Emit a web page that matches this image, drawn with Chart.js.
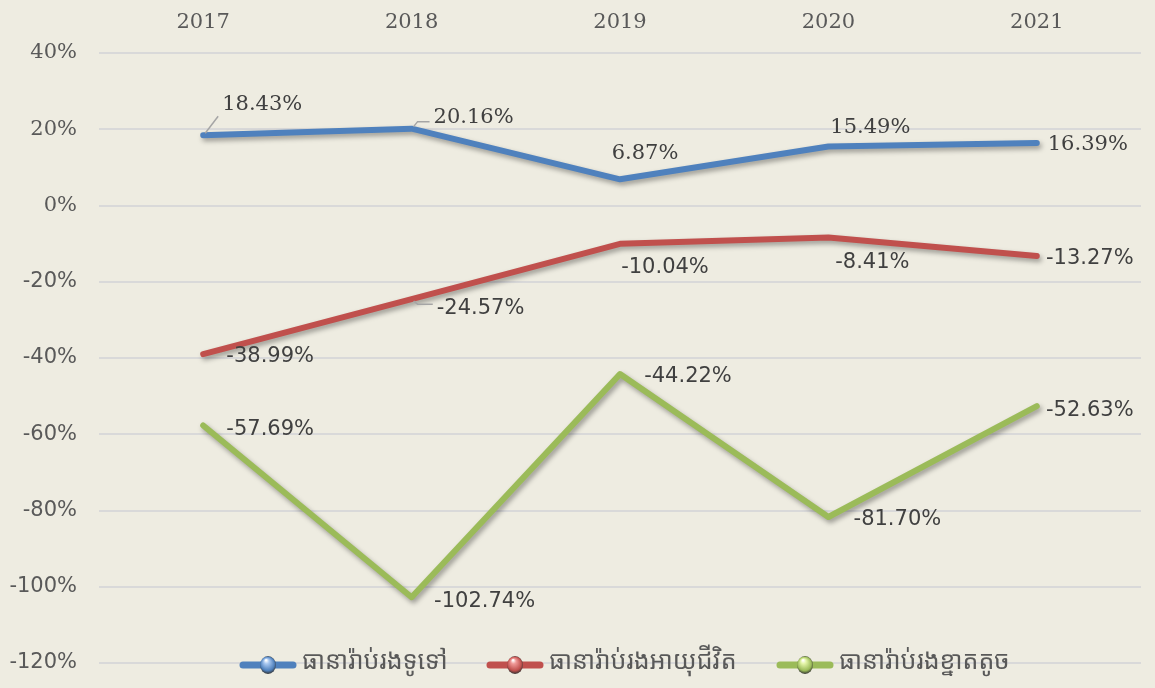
<!DOCTYPE html>
<html>
<head>
<meta charset="utf-8">
<script src="https://cdn.jsdelivr.net/npm/chart.js@4.4.1/dist/chart.umd.min.js"></script>
<style>
  html, body { margin: 0; padding: 0; background: #eeece1; }
  #wrap { width: 1155px; height: 688px; }
</style>
</head>
<body>
<div id="wrap"><canvas id="chart" width="1155" height="688"></canvas></div>
<script>
// Chart data
const years = ["2017", "2018", "2019", "2020", "2021"];
const seriesNames = ["ធានារ៉ាប់រងទូទៅ", "ធានារ៉ាប់រងអាយុជីវិត", "ធានារ៉ាប់រងខ្នាតតូច"];
const generalIns = [18.43, 20.16, 6.87, 15.49, 16.39];
const lifeIns = [-38.99, -24.57, -10.04, -8.41, -13.27];
const microIns = [-57.69, -102.74, -44.22, -81.70, -52.63];
const yTicks = [40, 20, 0, -20, -40, -60, -80, -100, -120];

const colors = ["#4f81bd", "#c0504d", "#9bbb59"];
const ballLight = ["#a9c8f0", "#f09a98", "#e4f5a8"];

// label offsets (px from the point), roughly as placed in the original
const labelOffsets = [
    [[59, -31], [62, -11], [25, -26], [42, -19], [51, 2]],
    [[67, 2], [69, 9], [45, 24], [44, 25], [53, 2]],
    [[67, 4], [73, 4], [68, 2], [69, 3], [53, 4]]
];
const leaderLines = [
    [true, true, false, false, false],
    [false, true, false, false, false],
    [false, false, false, false, false]
];

const serif = "'DejaVu Serif', serif";
const sans = "'DejaVu Sans', sans-serif";

function fmt(v) {
    return v.toFixed(2) + "%";
}

// line shadow
const shadowPlugin = {
    id: "shadow",
    beforeDatasetDraw(chart) {
        const ctx = chart.ctx;
        ctx.save();
        ctx.shadowColor = "rgba(0,0,0,0.35)";
        ctx.shadowBlur = 5;
        ctx.shadowOffsetX = 2;
        ctx.shadowOffsetY = 3;
    },
    afterDatasetDraw(chart) {
        chart.ctx.restore();
    }
};

// data labels + legend
const labelPlugin = {
    id: "labels",
    afterDatasetsDraw(chart) {
        const ctx = chart.ctx;
        ctx.save();
        chart.data.datasets.forEach((ds, di) => {
            const meta = chart.getDatasetMeta(di);
            meta.data.forEach((pt, i) => {
                const v = ds.data[i];
                const off = labelOffsets[di][i];
                const text = fmt(v);
                ctx.font = "21px " + (v < 0 ? sans : serif);
                const w = ctx.measureText(text).width;
                const cx = pt.x + off[0];
                const cy = pt.y + off[1];
                if (leaderLines[di][i]) {
                    ctx.strokeStyle = "#a5a5a5";
                    ctx.lineWidth = 1.5;
                    ctx.beginPath();
                    ctx.moveTo(pt.x + 2, pt.y - (off[1] < 0 ? 2 : -2));
                    const ex = cx - w / 2 - 4;
                    const ey = cy + (off[1] < 0 ? 4 : -4);
                    if (Math.abs(off[1]) < 15) {
                        ctx.lineTo(pt.x + 6, ey);
                        ctx.lineTo(ex, ey);
                    } else {
                        ctx.lineTo(ex, ey + (off[1] < 0 ? 8 : 0));
                    }
                    ctx.stroke();
                }
                ctx.fillStyle = "#404040";
                ctx.textAlign = "center";
                ctx.textBaseline = "middle";
                ctx.fillText(text, cx, cy);
            });
        });
        ctx.restore();
    },
    afterDraw(chart) {
        // legend drawn over the bottom of the plot
        const ctx = chart.ctx;
        const y = 665;
        const starts = [240, 487, 777];
        ctx.save();
        chart.data.datasets.forEach((ds, di) => {
            const x0 = starts[di];
            ctx.strokeStyle = ds.borderColor;
            ctx.lineWidth = 7;
            ctx.lineCap = "round";
            ctx.beginPath();
            ctx.moveTo(x0 + 3, y);
            ctx.lineTo(x0 + 53, y);
            ctx.stroke();
            const bx = x0 + 28;
            const g = ctx.createRadialGradient(bx - 2, y - 5, 0.5, bx, y, 9);
            g.addColorStop(0, "#ffffff");
            g.addColorStop(0.25, ballLight[di]);
            g.addColorStop(0.75, ds.borderColor);
            g.addColorStop(1, "#333333");
            ctx.fillStyle = g;
            ctx.beginPath();
            ctx.ellipse(bx, y, 8, 9, 0, 0, Math.PI * 2);
            ctx.fill();
            ctx.fillStyle = "#595959";
            ctx.font = "25px 'Noto Sans Khmer', 'Khmer OS', sans-serif";
            ctx.textAlign = "left";
            ctx.textBaseline = "middle";
            ctx.fillText(ds.label, x0 + 62, y - 3);
        });
        ctx.restore();
    }
};

function makeDataset(label, data, color) {
    return {
        label: label,
        data: data,
        borderColor: color,
        backgroundColor: color,
        borderWidth: 6,
        borderCapStyle: "round",
        borderJoinStyle: "round",
        pointRadius: 0,
        pointHoverRadius: 0,
        tension: 0,
        fill: false
    };
}

new Chart(document.getElementById("chart"), {
    type: "line",
    data: {
        labels: years,
        datasets: [
            makeDataset(seriesNames[0], generalIns, colors[0]),
            makeDataset(seriesNames[1], lifeIns, colors[1]),
            makeDataset(seriesNames[2], microIns, colors[2])
        ]
    },
    options: {
        responsive: false,
        animation: false,
        layout: { padding: { top: 0, right: 14, bottom: 25, left: 0 } },
        plugins: {
            legend: { display: false },
            tooltip: { enabled: false }
        },
        scales: {
            x: {
                position: "top",
                offset: true,
                grid: { display: false, drawTicks: false },
                border: { display: false },
                ticks: {
                    color: "#595959",
                    font: { family: serif, size: 21 },
                    padding: 18
                },
                afterFit(scale) { scale.height = 53; }
            },
            y: {
                min: -120,
                max: 40,
                afterBuildTicks(scale) {
                    scale.ticks = yTicks.map(v => ({ value: v }));
                },
                grid: { color: "#d9d9d9", lineWidth: 2, drawTicks: false },
                border: { display: false },
                ticks: {
                    color: "#595959",
                    padding: 22,
                    font: (c) => ({
                        family: c.tick && c.tick.value < 0 ? sans : serif,
                        size: 21
                    }),
                    callback: (v) => v + "%"
                },
                afterFit(scale) {
                    scale.width = 99;
                    scale.paddingTop = 0;
                    scale.paddingBottom = 0;
                }
            }
        }
    },
    plugins: [shadowPlugin, labelPlugin]
});
</script>
</body>
</html>
